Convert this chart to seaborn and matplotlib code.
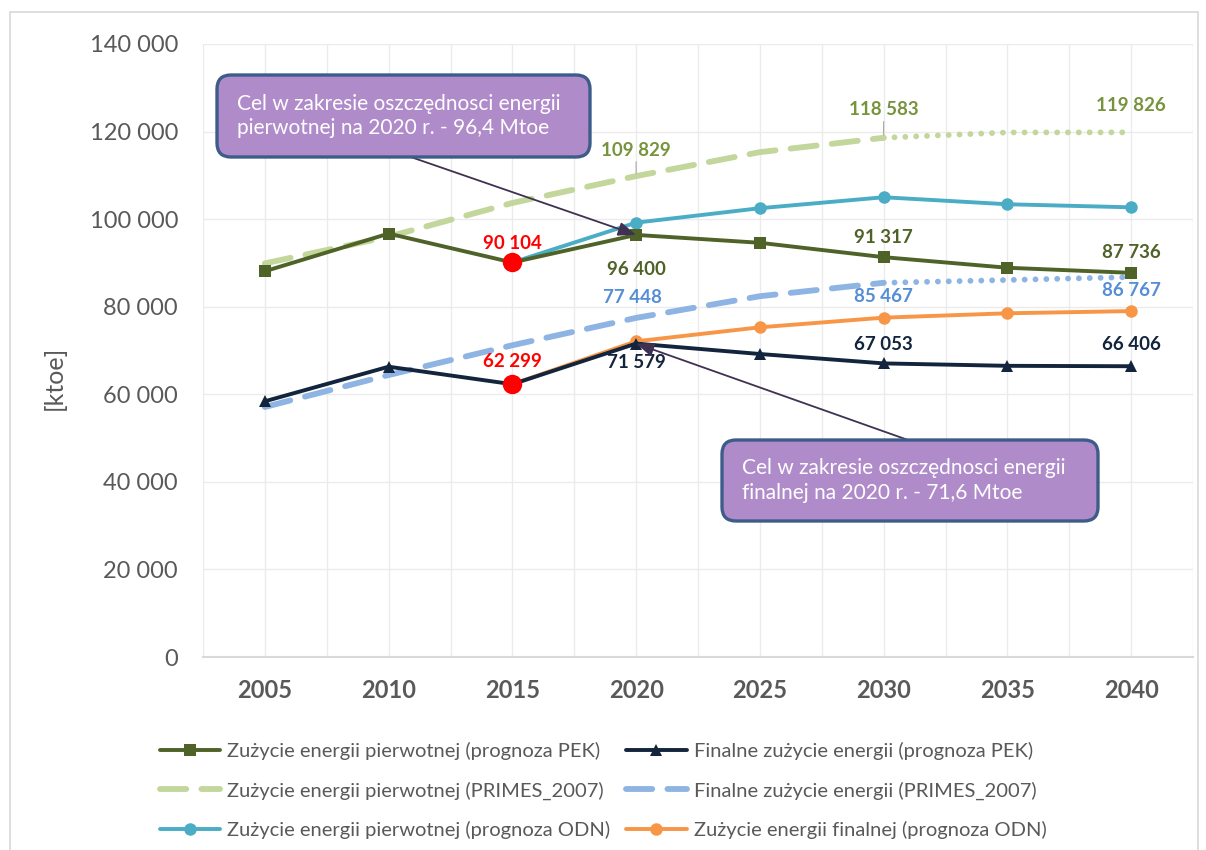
import matplotlib
matplotlib.use("Agg")
from matplotlib import pyplot as plt
from matplotlib.lines import Line2D
from matplotlib.patches import FancyBboxPatch, Rectangle
from matplotlib.ticker import FuncFormatter, MultipleLocator
import seaborn as sns
import pandas as pd

years = [2005, 2010, 2015, 2020, 2025, 2030, 2035, 2040]
pek_primary = [88100, 96700, 90104, 96400, 94600, 91317, 88900, 87736]
pek_final = [58400, 66300, 62299, 71579, 69200, 67053, 66500, 66406]

primes_years = [2005, 2010, 2015, 2020, 2025, 2030]
primes_primary = [89900, 96000, 103700, 109829, 115300, 118583]
primes_final = [57100, 64400, 71200, 77448, 82400, 85467]
primes_ext_years = [2030, 2035, 2040]
primes_primary_ext = [118583, 119800, 119826]
primes_final_ext = [85467, 86100, 86767]

odn_years = [2015, 2020, 2025, 2030, 2035, 2040]
odn_primary = [90104, 99200, 102500, 105000, 103400, 102700]
odn_final = [62299, 72100, 75300, 77500, 78500, 79000]

legend_labels = [
    "Zużycie energii pierwotnej (prognoza PEK)",
    "Zużycie energii pierwotnej (PRIMES_2007)",
    "Zużycie energii pierwotnej (prognoza ODN)",
    "Finalne zużycie energii (prognoza PEK)",
    "Finalne zużycie energii (PRIMES_2007)",
    "Zużycie energii finalnej (prognoza ODN)",
]
box_texts = [
    "Cel w zakresie oszczędnosci energii\npierwotnej na 2020 r. - 96,4 Mtoe",
    "Cel w zakresie oszczędnosci energii\nfinalnej na 2020 r. - 71,6 Mtoe",
]

sns.set_theme(style="white")
plt.rcParams['font.family'] = ['Lato', 'DejaVu Sans']

C_PEK_P = "#4F6228"
C_PEK_F = "#13243D"
C_PRI_P = "#C3D69B"
C_PRI_F = "#8DB4E2"
C_ODN_P = "#4BACC6"
C_ODN_F = "#F79646"
GRAY = "#595959"

fig = plt.figure(figsize=(12.06, 8.5), dpi=100)
ax = fig.add_axes([203 / 1206, 1 - 657 / 850, 990 / 1206, 613 / 850])

dash = (0, (4.5, 2.6))
dot = (0, (0.01, 1.85))

def line(x, y, color, **kw):
    df = pd.DataFrame({"x": x, "y": y})
    sns.lineplot(data=df, x="x", y="y", color=color, ax=ax, legend=False, **kw)

line(primes_years, primes_primary, C_PRI_P, lw=4.2, linestyle=dash, dash_capstyle="round", zorder=2)
line(primes_ext_years, primes_primary_ext, C_PRI_P, lw=4.2, linestyle=dot, dash_capstyle="round", zorder=2)
line(primes_years, primes_final, C_PRI_F, lw=4.2, linestyle=dash, dash_capstyle="round", zorder=2)
line(primes_ext_years, primes_final_ext, C_PRI_F, lw=4.2, linestyle=dot, dash_capstyle="round", zorder=2)
line(odn_years, odn_primary, C_ODN_P, lw=2.8, marker="o", markersize=9, markeredgewidth=0, zorder=3)
line(odn_years, odn_final, C_ODN_F, lw=2.8, marker="o", markersize=9, markeredgewidth=0, zorder=3)
line(years, pek_primary, C_PEK_P, lw=2.8, marker="s", markersize=8, markeredgewidth=0, zorder=4)
line(years, pek_final, C_PEK_F, lw=2.8, marker="^", markersize=9, markeredgewidth=0, zorder=4)

# red 2015 points
ax.plot([2015, 2015], [pek_primary[2], pek_final[2]], "o", color="#FF0000",
        markersize=14, markeredgewidth=0, zorder=6)

ax.set_xlim(2002.5, 2042.5)
ax.set_ylim(0, 140000)
ax.xaxis.set_major_locator(MultipleLocator(5))
ax.xaxis.set_minor_locator(MultipleLocator(2.5))
ax.yaxis.set_major_locator(MultipleLocator(20000))
ax.yaxis.set_major_formatter(FuncFormatter(lambda v, p: f"{int(v):,}".replace(",", " ")))
ax.grid(True, which="both", axis="x", color="#EBEBEB", lw=1)
ax.grid(True, which="major", axis="y", color="#EBEBEB", lw=1)
ax.set_axisbelow(True)
for s in ["left", "top", "right"]:
    ax.spines[s].set_visible(False)
ax.spines["bottom"].set_color("#D9D9D9")
ax.spines["bottom"].set_linewidth(1.5)
ax.tick_params(axis="both", which="both", length=0)
ax.tick_params(axis="y", pad=18, labelsize=17, labelcolor=GRAY)
ax.tick_params(axis="x", pad=16, labelsize=17, labelcolor=GRAY)
for t in ax.get_xticklabels():
    t.set_fontweight("bold")
ax.set_xlabel("")
ax.set_ylabel("[ktoe]", fontsize=18, color=GRAY)
ax.yaxis.set_label_coords(-0.139, 0.455)

def lab(x, y, txt, color, dy, leader=False):
    kw = {}
    if leader:
        kw["arrowprops"] = dict(arrowstyle="-", color="#A6A6A6", lw=0.8, shrinkA=0, shrinkB=2)
    ax.annotate(txt, (x, y), xytext=(0, dy), textcoords="offset pixels",
                ha="center", va="center", fontsize=13.5, fontweight="bold",
                color=color, zorder=7, **kw)

lab(2020, primes_primary[3], "109 829", "#77933C", 26, leader=True)
lab(2030, primes_primary[5], "118 583", "#77933C", 28, leader=True)
lab(2040, primes_primary_ext[2], "119 826", "#77933C", 27)
lab(2020, pek_primary[3], "96 400", C_PEK_P, -35)
lab(2030, pek_primary[5], "91 317", C_PEK_P, 20)
lab(2040, pek_primary[7], "87 736", C_PEK_P, 20)
lab(2019.85, primes_final[3], "77 448", "#558ED5", 20)
lab(2030, primes_final_ext[0], "85 467", "#558ED5", -14)
lab(2040, primes_final_ext[2], "86 767", "#558ED5", -13)
lab(2020, pek_final[3], "71 579", C_PEK_F, -19)
lab(2030, pek_final[5], "67 053", C_PEK_F, 19)
lab(2040, pek_final[7], "66 406", C_PEK_F, 22)
lab(2015, pek_primary[2], "90 104", "#FF0000", 19)
lab(2015, pek_final[2], "62 299", "#FF0000", 23)

# callout boxes (inches, isotropic)
boxes = [(2.17, 6.93, 3.73, 0.82), (7.22, 3.29, 3.76, 0.81)]
arrow_from = [(405, 695), (908, 410)]
arrow_to = [(2020, pek_primary[3]), (2020, pek_final[3])]
for (x0, y0, w, h), txt, start, end in zip(boxes, box_texts, arrow_from, arrow_to):
    ax.annotate("", xy=end, xytext=start, textcoords="figure pixels",
                arrowprops=dict(arrowstyle="-|>,head_length=0.9,head_width=0.35",
                                color="#3F3151", lw=1.3, shrinkA=0, shrinkB=0),
                zorder=8, annotation_clip=False)
    p = FancyBboxPatch((x0, y0), w, h, boxstyle="round,pad=0,rounding_size=0.14",
                       transform=fig.dpi_scale_trans, facecolor="#B08BC9",
                       edgecolor="#3D5C8A", lw=2.4, zorder=9)
    fig.patches.append(p)
    fig.text(x0 + 0.2, y0 + h / 2, txt, transform=fig.dpi_scale_trans,
             ha="left", va="center", fontsize=15, color="white",
             linespacing=1.3, zorder=10)

handles = [
    Line2D([], [], color=C_PEK_P, lw=2.8, marker="s", markersize=8, markeredgewidth=0),
    Line2D([], [], color=C_PRI_P, lw=4.2, linestyle=dash, dash_capstyle="round"),
    Line2D([], [], color=C_ODN_P, lw=2.8, marker="o", markersize=9, markeredgewidth=0),
    Line2D([], [], color=C_PEK_F, lw=2.8, marker="^", markersize=9, markeredgewidth=0),
    Line2D([], [], color=C_PRI_F, lw=4.2, linestyle=dash, dash_capstyle="round"),
    Line2D([], [], color=C_ODN_F, lw=2.8, marker="o", markersize=9, markeredgewidth=0),
]
leg = fig.legend(handles, legend_labels, ncol=2, loc="upper center",
                 bbox_to_anchor=(0.5, 1 - 724 / 850), frameon=False,
                 fontsize=14.5, handlelength=3.0, handletextpad=0.35,
                 columnspacing=0.8, labelspacing=1.05)
for t in leg.get_texts():
    t.set_color(GRAY)

fig.patches.append(Rectangle((10, -10), 1188, 848, transform=None, fill=False,
                             edgecolor="#D9D9D9", lw=1.2))

fig.savefig("out.png", dpi=100)
